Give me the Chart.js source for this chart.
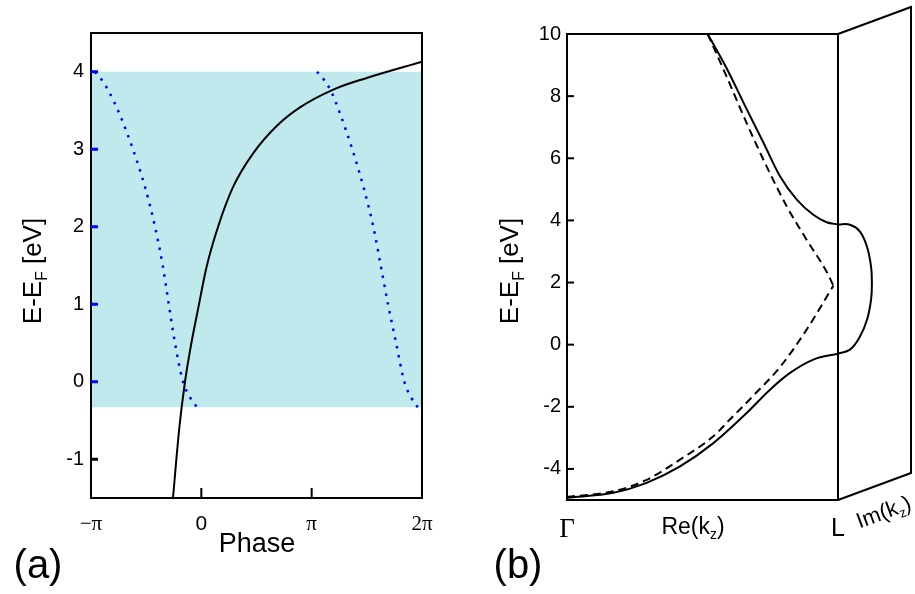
<!DOCTYPE html>
<html>
<head>
<meta charset="utf-8">
<script src="https://cdn.jsdelivr.net/npm/chart.js@4.4.1/dist/chart.umd.min.js"></script>
<style>
  body { margin: 0; background: #fff; }
  #wrap { position: relative; width: 915px; height: 594px; }
  canvas { position: absolute; top: 0; }
  #chart-a { left: 0; }
  #chart-b { left: 460px; }
</style>
</head>
<body>
<div id="wrap">
  <canvas id="chart-a" width="460" height="594"></canvas>
  <canvas id="chart-b" width="455" height="594"></canvas>
</div>
<script>
var SANS = "'Liberation Sans', Arial, sans-serif";
var SERIF = "'Liberation Serif', 'Times New Roman', serif";

// ---- panel (a): phase in units of pi, energy in eV ----
var phaseRange = [-1, 2];
var phaseTicks = [-1, 0, 1, 2];
var phaseLabels = ["\u2212\u03c0", "0", "\u03c0", "2\u03c0"];
var energyTicksA = [-1, 0, 1, 2, 3, 4];
var bandTop = 4.0;
var bandBottom = -0.33;

var statePhase  = [-0.257, -0.20, -0.148, -0.09, -0.035, 0.049, 0.154, 0.29, 0.471, 0.683, 0.894, 1.196, 1.499, 2.0];
var stateEnergy = [-1.5, -0.6, 0.0, 0.5, 0.9, 1.49, 2.01, 2.52, 2.95, 3.30, 3.54, 3.77, 3.92, 4.13];

var leftPhase   = [-0.965, -0.905, -0.84, -0.74, -0.62, -0.508, -0.42, -0.35, -0.295, -0.239, -0.166, -0.103, -0.039];
var leftEnergy  = [4.0, 3.9, 3.75, 3.45, 3.0, 2.5, 2.0, 1.5, 1.0, 0.5, 0.0, -0.2, -0.33];
var rightPhase  = [1.048, 1.11, 1.175, 1.26, 1.368, 1.472, 1.559, 1.626, 1.692, 1.765, 1.84, 1.90, 1.961];
var rightEnergy = [4.0, 3.9, 3.75, 3.45, 3.0, 2.5, 2.0, 1.5, 1.0, 0.5, 0.0, -0.2, -0.33];

// ---- panel (b): Re(kz) from Gamma (0) to L (1) ----
var kTicks = [0, 1];
var kLabels = ["\u0393", "L"];
var energyTicksB = [-4, -2, 0, 2, 4, 6, 8, 10];

var upperK  = [0.519, 0.589, 0.663, 0.725, 0.786, 0.848, 0.909, 0.958, 1.0];
var upperE  = [10, 8.9, 7.58, 6.5, 5.42, 4.67, 4.18, 3.94, 3.87];
var lowerK  = [0, 0.171, 0.294, 0.417, 0.54, 0.663, 0.749, 0.823, 0.909, 1.0];
var lowerE  = [-4.93, -4.77, -4.45, -3.92, -3.17, -2.2, -1.45, -0.91, -0.48, -0.29];
var freeUpK = [0.519, 0.589, 0.663, 0.737, 0.811, 0.884, 0.958, 0.983];
var freeUpE = [10, 8.63, 7.13, 5.73, 4.45, 3.38, 2.35, 1.9];
var freeLoK = [0, 0.171, 0.294, 0.417, 0.54, 0.601, 0.69, 0.786, 0.884, 0.983];
var freeLoE = [-4.9, -4.72, -4.35, -3.70, -2.95, -2.41, -1.62, -0.72, 0.48, 1.9];
// gap states drawn on the Im(kz) face (x past L)
var loopK = [1.0, 1.044, 1.081, 1.107, 1.122, 1.125, 1.122, 1.107, 1.081, 1.044, 1.0];
var loopE = [3.87, 3.86, 3.64, 3.15, 2.51, 2.0, 1.45, 0.80, 0.26, -0.16, -0.29];

function pts(xs, ys, scale) {
  return xs.map(function (x, i) { return { x: x * (scale || 1), y: ys[i] }; });
}

function subText(ctx, cx, cy, angle, size, pieces) {
  ctx.save();
  ctx.translate(cx, cy);
  ctx.rotate(angle);
  ctx.textBaseline = 'middle';
  ctx.textAlign = 'left';
  ctx.fillStyle = '#000';
  var widths = pieces.map(function (p) {
    ctx.font = (p.sub ? size * 0.6 : size) + 'px ' + SANS;
    return ctx.measureText(p.t).width;
  });
  var total = widths.reduce(function (a, b) { return a + b; }, 0);
  var x = -total / 2;
  pieces.forEach(function (p, i) {
    ctx.font = (p.sub ? size * 0.6 : size) + 'px ' + SANS;
    ctx.fillText(p.t, x, p.sub ? size * 0.32 : 0);
    x += widths[i];
  });
  ctx.restore();
}

var energyTitle = [{ t: 'E-E' }, { t: 'F', sub: true }, { t: ' [eV]' }];

var lineBase = { pointRadius: 0, borderWidth: 2, borderColor: '#000', fill: false, cubicInterpolationMode: 'monotone' };
function line(extra) { return Object.assign({}, lineBase, extra); }

// ---------- (a) ----------
var frameA = {
  id: 'frameA',
  afterDraw: function (chart) {
    var ctx = chart.ctx, a = chart.chartArea, xs = chart.scales.x, ys = chart.scales.y;
    ctx.save();
    ctx.strokeStyle = '#000';
    ctx.lineWidth = 2;
    ctx.strokeRect(a.left, a.top, a.right - a.left, a.bottom - a.top);
    // inward ticks on the phase axis
    [0, 1].forEach(function (p) {
      var x = xs.getPixelForValue(p * Math.PI);
      ctx.beginPath(); ctx.moveTo(x, a.bottom); ctx.lineTo(x, a.bottom - 10); ctx.stroke();
    });
    // inward ticks on the energy axis
    ctx.lineWidth = 3;
    energyTicksA.forEach(function (e) {
      var y = ys.getPixelForValue(e);
      ctx.strokeStyle = e >= 0 ? '#0000ff' : '#000';
      ctx.beginPath(); ctx.moveTo(a.left, y); ctx.lineTo(a.left + 7, y); ctx.stroke();
    });
    ctx.restore();

    subText(ctx, 34, 271, -Math.PI / 2, 26, energyTitle);
    subText(ctx, 257, 545, 0, 27, [{ t: 'Phase' }]);
    subText(ctx, 38, 567, 0, 40, [{ t: '(a)' }]);
  }
};

new Chart(document.getElementById('chart-a'), {
  type: 'line',
  data: {
    datasets: [
      line({ data: pts(phaseRange, [bandTop, bandTop], Math.PI), borderWidth: 0, fill: '+1', backgroundColor: '#bfe9ed', order: 10 }),
      line({ data: pts(phaseRange, [bandBottom, bandBottom], Math.PI), borderWidth: 0, order: 11 }),
      line({ data: pts(leftPhase, leftEnergy, Math.PI), borderColor: '#0000ff', borderWidth: 2.5, borderDash: [2.5, 6.5], order: 2 }),
      line({ data: pts(rightPhase, rightEnergy, Math.PI), borderColor: '#0000ff', borderWidth: 2.5, borderDash: [2.5, 6.5], order: 2 }),
      line({ data: pts(statePhase, stateEnergy, Math.PI), order: 1 })
    ]
  },
  options: {
    responsive: false,
    animation: false,
    layout: { padding: { top: 33, right: 38, bottom: 0, left: 0 } },
    plugins: { legend: { display: false }, tooltip: { enabled: false } },
    scales: {
      x: {
        type: 'linear',
        min: phaseRange[0] * Math.PI,
        max: phaseRange[1] * Math.PI,
        grid: { display: false, drawTicks: false },
        border: { display: false },
        afterFit: function (s) { s.height = 96; },
        afterBuildTicks: function (s) { s.ticks = phaseTicks.map(function (p) { return { value: p * Math.PI }; }); },
        ticks: {
          autoSkip: false, maxRotation: 0, padding: 14, color: '#000',
          callback: function (v, i) { return phaseLabels[i]; },
          font: function (c) { return { family: phaseLabels[c.index] === '0' ? SANS : SERIF, size: 21 }; }
        }
      },
      y: {
        min: -1.5, max: 4.5,
        grid: { display: false, drawTicks: false },
        border: { display: false },
        afterFit: function (s) { s.width = 91; },
        afterBuildTicks: function (s) { s.ticks = energyTicksA.map(function (e) { return { value: e }; }); },
        ticks: { padding: 7, color: '#000', font: { family: SANS, size: 20 } }
      }
    }
  },
  plugins: [frameA]
});

// ---------- (b) ----------
var depthX = 73, depthY = -27;
var frameB = {
  id: 'frameB',
  afterDraw: function (chart) {
    var ctx = chart.ctx, a = chart.chartArea, ys = chart.scales.y;
    ctx.save();
    ctx.strokeStyle = '#000';
    ctx.lineWidth = 2;
    ctx.strokeRect(a.left, a.top, a.right - a.left, a.bottom - a.top);
    // Im(kz) face behind L
    ctx.beginPath();
    ctx.moveTo(a.right, a.top);
    ctx.lineTo(a.right + depthX, a.top + depthY);
    ctx.lineTo(a.right + depthX, a.bottom + depthY);
    ctx.lineTo(a.right, a.bottom);
    ctx.stroke();
    energyTicksB.forEach(function (e) {
      var y = ys.getPixelForValue(e);
      ctx.beginPath(); ctx.moveTo(a.left, y); ctx.lineTo(a.left + 7, y); ctx.stroke();
    });
    ctx.restore();

    subText(ctx, 51, 271, -Math.PI / 2, 26, energyTitle);
    subText(ctx, 233, 528, 0, 23, [{ t: 'Re(k' }, { t: 'z', sub: true }, { t: ')' }]);
    subText(ctx, a.right + 46, 513, Math.atan2(depthY, depthX), 22, [{ t: 'Im(k' }, { t: 'z', sub: true }, { t: ')' }]);
    subText(ctx, 58, 567, 0, 40, [{ t: '(b)' }]);
  }
};

new Chart(document.getElementById('chart-b'), {
  type: 'line',
  data: {
    datasets: [
      line({ data: pts(freeUpK, freeUpE), borderDash: [8, 5] }),
      line({ data: pts(freeLoK, freeLoE), borderDash: [8, 5] }),
      line({ data: pts(upperK, upperE) }),
      line({ data: pts(lowerK, lowerE) }),
      line({ data: pts(loopK, loopE), cubicInterpolationMode: 'default', tension: 0.4, clip: false })
    ]
  },
  options: {
    responsive: false,
    animation: false,
    layout: { padding: { top: 34, right: 77, bottom: 0, left: 0 } },
    plugins: { legend: { display: false }, tooltip: { enabled: false } },
    scales: {
      x: {
        type: 'linear', min: 0, max: 1,
        grid: { display: false, drawTicks: false },
        border: { display: false },
        afterFit: function (s) { s.height = 94; },
        afterBuildTicks: function (s) { s.ticks = kTicks.map(function (k) { return { value: k }; }); },
        ticks: {
          autoSkip: false, maxRotation: 0, padding: 14, color: '#000',
          callback: function (v, i) { return kLabels[i]; },
          font: function (c) { return c.index === 0 ? { family: SERIF, size: 27 } : { family: SANS, size: 25 }; }
        }
      },
      y: {
        min: -5, max: 10,
        grid: { display: false, drawTicks: false },
        border: { display: false },
        afterFit: function (s) { s.width = 107; },
        afterBuildTicks: function (s) { s.ticks = energyTicksB.map(function (e) { return { value: e }; }); },
        ticks: { padding: 6, color: '#000', font: { family: SANS, size: 20 } }
      }
    }
  },
  plugins: [frameB]
});
</script>
</body>
</html>
